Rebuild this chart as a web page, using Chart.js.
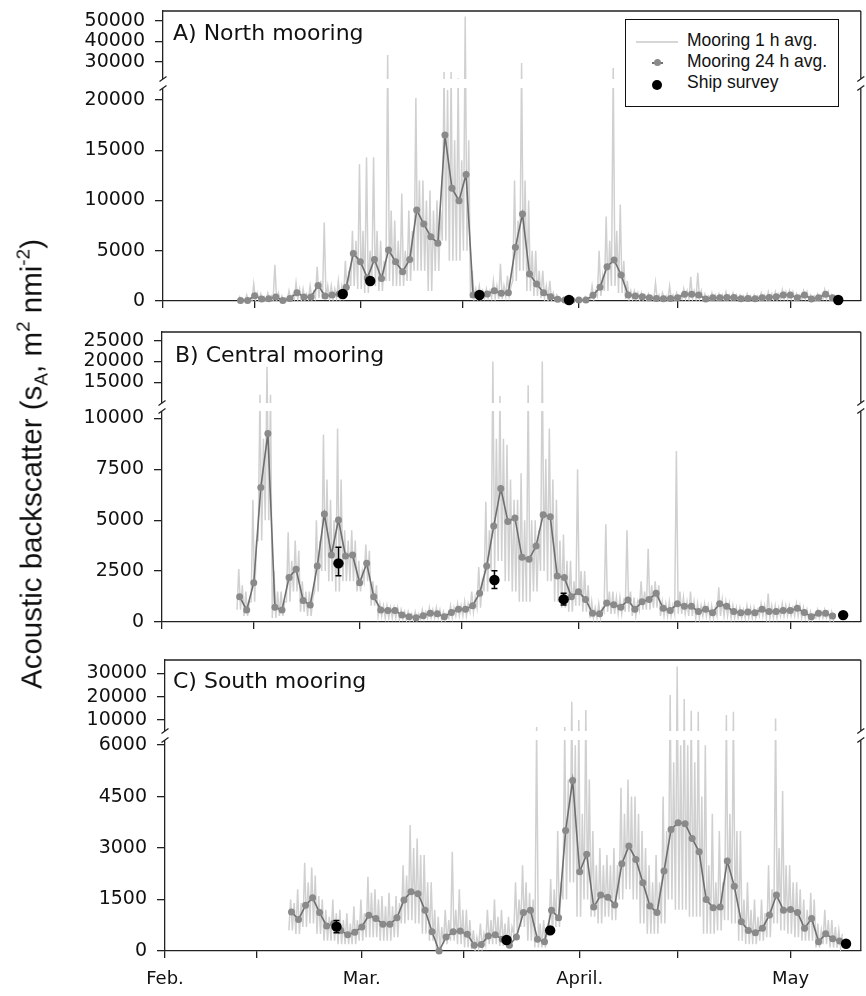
<!DOCTYPE html>
<html>
<head>
<meta charset="utf-8">
<script src="https://cdn.jsdelivr.net/npm/chart.js@4/dist/chart.umd.min.js"></script>
<style>
html,body{margin:0;padding:0;background:#fff;}
#wrap{position:relative;width:866px;height:996px;overflow:hidden;background:#fff;}
canvas{position:absolute;left:0;}
.ptitle{position:absolute;font-family:"DejaVu Sans",sans-serif;font-size:22px;line-height:22px;color:#111;white-space:nowrap;z-index:2;}
#ylab{position:absolute;left:31px;top:464px;transform:translate(-50%,-50%) rotate(-90deg);font-family:"Liberation Sans",Arial,sans-serif;font-size:29.5px;line-height:29px;white-space:nowrap;color:#111;z-index:2;}
#ylab sub,#ylab sup{font-size:19px;line-height:0;position:relative;vertical-align:baseline;}
#ylab sub{top:6px;}
#ylab sup{top:-12px;}
#legend{position:absolute;left:625px;top:19px;width:214px;height:88px;box-sizing:border-box;border:1px solid #111;background:#fff;z-index:3;}
.ltxt{position:absolute;left:61px;font-family:"Liberation Sans",Arial,sans-serif;font-size:17.5px;line-height:17px;color:#111;white-space:nowrap;}
.lline{position:absolute;}
.ldot{position:absolute;border-radius:50%;}
</style>
</head>
<body>
<div id="wrap">
  <canvas id="cA" width="866" height="320" style="top:0px"></canvas>
  <canvas id="cB" width="866" height="320" style="top:320px"></canvas>
  <canvas id="cC" width="866" height="356" style="top:640px"></canvas>
  <div class="ptitle" style="left:173px;top:22px">A) North mooring</div>
  <div class="ptitle" style="left:175px;top:344px">B) Central mooring</div>
  <div class="ptitle" style="left:173px;top:670px">C) South mooring</div>
  <div id="ylab">Acoustic backscatter (s<sub>A</sub>, m<sup>2</sup> nmi<sup>-2</sup>)</div>
  <div id="legend">
    <div class="lline" style="left:10px;top:21px;width:42px;height:2px;background:#d6d6d6"></div>
    <div class="ltxt" style="top:12px">Mooring 1 h avg.</div>
    <div class="lline" style="left:26px;top:42px;width:11px;height:2px;background:#707070"></div>
    <div class="ldot" style="left:28px;top:39px;width:7px;height:7px;background:#8a8a8a"></div>
    <div class="ltxt" style="top:33px">Mooring 24 h avg.</div>
    <div class="ldot" style="left:26px;top:60px;width:10px;height:10px;background:#000"></div>
    <div class="ltxt" style="top:54px">Ship survey</div>
  </div>
</div>
<script>
// ---------- x axis (days since Feb. 1) ----------
const xTickDays = [0, 13, 28, 42.5, 59, 73, 89];
const xTickLabels = ['Feb.', '', 'Mar.', '', 'April.', '', 'May'];

// ---------- Panel A: North mooring ----------
const aTicks = [0, 5000, 10000, 15000, 20000, 30000, 40000, 50000];
const a24Start = 11;
const a24 = [50,50,530,200,230,400,50,260,830,400,
  400,1550,500,600,700,1370,4740,3910,2300,4140,
  2250,5070,3910,2920,4140,9050,7660,6400,5740,16520,
  11210,9980,12600,600,650,700,1030,760,830,5340,
  8660,2690,1690,830,430,170,100,80,100,100,
  560,1360,3420,4080,2590,600,500,430,330,260,
  230,260,330,660,660,600,200,330,330,360,
  360,230,260,230,330,360,430,600,600,330,
  600,200,330,660,330];
// hourly trace, read per day: low, tallest spike, and top of the dense band
const a1hStart = 11;
const a1hLo = [0,0,100,50,50,100,0,50,200,100,
  200,300,200,200,300,500,1500,1200,800,1500,
  1000,2000,1500,1500,2000,3000,3000,1000,3000,6000,
  4000,4000,5000,300,300,300,300,200,500,2000,
  3000,1000,500,300,100,50,0,0,0,0,
  200,500,1000,1500,800,200,200,100,100,100,
  100,100,100,200,200,200,100,100,100,100,
  100,100,100,100,100,100,100,200,200,100,
  200,100,100,200,100];
const a1hHi = [400,600,1700,700,800,3600,500,1000,1800,1200,
  1500,3400,7800,1500,2000,4000,7000,13600,14300,14300,
  6000,33300,8000,10700,9000,20200,12000,11000,10000,25000,
  25000,22000,52000,3000,1500,1200,2000,3700,2500,12000,
  29400,10000,5000,3000,2000,600,300,200,200,400,
  1500,5000,8400,27000,9600,2000,1000,800,700,1800,
  800,1500,800,1200,2400,2800,700,800,700,900,
  800,600,700,600,800,900,900,1100,1000,700,
  1000,600,700,1100,600];
const a1hMid = [200,300,800,400,500,800,300,600,1200,700,
  900,2000,1500,1200,1500,3000,6000,7000,5000,7000,
  4000,9000,6000,5000,7000,12000,10000,9000,9000,21000,
  16000,14000,16000,1200,1000,1000,1500,1500,1500,8000,
  12000,5000,3000,1500,800,300,200,150,150,300,
  1000,2500,6000,7000,4000,1000,800,600,500,600,
  500,600,600,1000,1000,1000,500,600,600,600,
  600,500,500,500,600,700,700,900,900,600,
  900,500,600,900,500];
const aShipDays = [25.5, 29.4, 44.9, 57.6, 95.8];
const aShipVals = [700, 1990, 600, 100, 100];

// ---------- Panel B: Central mooring ----------
const bTicks = [0, 2500, 5000, 7500, 10000, 15000, 20000, 25000];
const b24Start = 11;
const b24 = [1240,590,1930,6610,9260,720,590,2190,2590,1050,
  830,2750,5300,3290,5010,3240,3290,1930,2880,1240,
  590,560,560,340,260,210,310,430,400,260,
  470,620,620,800,1410,2750,4710,6560,4940,5110,
  3180,3080,3730,5270,5170,2260,2190,1240,1490,1110,
  430,400,930,850,720,1080,620,990,1110,1410,
  670,560,900,770,770,510,620,460,900,770,
  510,460,490,460,620,510,510,560,560,670,
  470,260,430,430,290];
const b1hStart = 11;
const b1hLo = [600,300,1000,4000,5000,200,300,1000,1500,500,
  300,1500,2500,2000,1500,2000,2000,1500,2000,800,
  300,200,200,150,100,100,150,200,200,100,
  200,300,300,500,700,1500,2500,3000,2000,1500,
  1000,1000,1500,2500,2000,1000,700,500,800,500,
  200,200,500,400,400,500,300,600,600,700,
  300,300,400,400,300,200,300,200,300,300,
  200,200,200,200,300,200,200,300,300,300,
  200,100,200,200,100];
const b1hHi = [2600,1500,6000,12000,18700,2500,1500,4400,4000,2000,
  1500,5000,9200,6000,9500,4500,4500,3000,3800,2000,
  900,800,700,600,500,500,600,700,700,500,
  800,900,1000,1500,2700,5900,20000,11700,8700,6000,
  7300,14300,5000,20000,9500,6000,4300,3000,7500,2500,
  1000,900,4800,1500,1200,4500,1200,2000,3600,2000,
  1000,1000,8400,1200,1500,900,900,800,1700,1000,
  800,700,800,700,900,1400,800,900,800,900,
  700,500,600,600,500];
const b1hMid = [1800,1000,4000,9000,12000,1500,1000,3000,3500,1500,
  1200,4000,7000,5000,7000,4000,4000,2500,3500,1800,
  800,700,700,500,400,400,500,600,600,400,
  700,800,900,1200,2000,4500,9000,9000,7000,6000,
  5000,5000,4500,8000,7000,4000,3000,2000,2500,1800,
  700,700,1500,1200,1000,1500,1000,1500,1800,1800,
  900,800,1500,1000,1000,800,800,700,1100,900,
  700,600,700,600,800,800,700,800,700,800,
  600,400,500,500,400];
const bShipDays = [25, 47.1, 56.9, 96.5];
const bShipVals = [2880, 2060, 1110, 340];
const bShipErrLo = [2270, 1640, 840, null];
const bShipErrHi = [3670, 2520, 1410, null];

// ---------- Panel C: South mooring ----------
const cTicks = [0, 1500, 3000, 4500, 6000, 10000, 20000, 30000];
const c24Start = 18;
const c24 = [1140,920,1330,1550,1120,730,800,600,470,550,
  700,1040,950,780,780,970,1490,1730,1670,1190,
  560,0,410,560,580,490,170,190,440,470,
  340,170,410,1120,1190,340,270,1190,970,3510,
  4970,2310,2820,1280,1630,1570,1340,2540,3060,2670,
  1990,1310,1120,2330,3540,3740,3710,3280,2890,1500,
  1260,1280,2620,1890,850,600,530,660,1050,1630,
  1190,1210,1120,660,950,270,500,360,290];
const c1hStart = 18;
const c1hLo = [600,500,700,800,500,300,300,200,200,200,
  300,400,400,300,300,400,800,900,800,500,
  300,0,200,300,200,100,50,100,200,200,
  150,100,500,700,300,100,100,500,700,1500,
  2000,1000,1500,1000,800,1000,900,1500,1800,1500,
  800,500,500,800,1500,1200,1200,1000,1000,500,
  500,600,900,800,300,200,200,300,400,800,
  600,500,400,300,300,100,200,100,100];
const c1hHi = [1500,1800,2570,2430,1600,1200,1500,1200,1100,1300,
  1500,2160,1800,1600,1700,1600,2500,3670,3280,2800,
  2000,1000,1200,2890,1800,1200,600,800,1200,1500,
  1200,1000,2000,2500,1700,7000,900,2100,3500,7000,
  17800,10000,14300,3500,3000,2800,3000,4760,5000,4500,
  3500,2500,2800,4500,20700,32900,19000,14000,13500,6000,
  4000,3500,12100,13500,3500,2000,1500,1500,2500,10700,
  4660,2500,2000,1500,1700,800,1200,900,600];
const c1hMid = [1400,1400,2000,2200,1500,1000,1100,900,800,900,
  1100,1700,1500,1300,1300,1400,2200,3000,2800,2000,
  1200,700,900,1200,1200,900,400,500,900,1000,
  800,700,1500,2000,1500,800,600,1800,2000,5000,
  6000,4000,5000,2500,2500,2500,2500,4000,4500,4000,
  3000,2000,2000,3500,5500,6000,6000,5500,4500,2500,
  2000,2000,4000,3500,1500,1200,1000,1100,1800,3000,
  2500,2000,1800,1200,1500,600,900,700,500];
const cShipDays = [24.4, 48.6, 54.8, 96.9];
const cShipVals = [710, 320, 600, 210];
const cShipErrLo = [530, null, null, null];
const cShipErrHi = [890, null, null, null];

// ---------- broken (two-segment) value axis ----------
class BrokenScale extends Chart.LinearScale {
  buildTicks() {
    return this.options.brk.vals.map(v => ({ value: v }));
  }
  getPixelForValue(value) {
    const b = this.options.brk;
    const H = this.bottom - this.top;
    const lowH = b.lowPx, gapH = b.gapPx, upH = H - lowH - gapH;
    if (value <= b.lowMax) return this.bottom - (value / b.lowMax) * lowH;
    if (value < b.highMin) return this.bottom - lowH - (value - b.lowMax) / (b.highMin - b.lowMax) * gapH;
    return this.top + upH - (value - b.highMin) / (b.highMax - b.highMin) * upH;
  }
  getValueForPixel(pixel) {
    const b = this.options.brk;
    const H = this.bottom - this.top;
    const lowH = b.lowPx, gapH = b.gapPx, upH = H - lowH - gapH;
    const fromBottom = this.bottom - pixel;
    if (fromBottom <= lowH) return fromBottom / lowH * b.lowMax;
    if (fromBottom <= lowH + gapH) return b.lowMax;
    return b.highMin + (fromBottom - lowH - gapH) / upH * (b.highMax - b.highMin);
  }
}
BrokenScale.id = 'broken';
BrokenScale.defaults = {};
Chart.register(BrokenScale);

const INK = '#222';

const framePlugin = {
  id: 'brkFrame',
  afterDatasetsDraw(chart, args, opts) {
    const e = opts.err;
    if (!e) return;
    const ctx = chart.ctx, xs = chart.scales.x, ys = chart.scales.y;
    ctx.save();
    ctx.strokeStyle = '#000';
    ctx.lineWidth = 1.5;
    for (let i = 0; i < e.x.length; i++) {
      if (e.lo[i] == null) continue;
      const x = xs.getPixelForValue(e.x[i]);
      const y1 = ys.getPixelForValue(e.lo[i]);
      const y2 = ys.getPixelForValue(e.hi[i]);
      ctx.beginPath();
      ctx.moveTo(x, y1); ctx.lineTo(x, y2);
      ctx.moveTo(x - 3, y1); ctx.lineTo(x + 3, y1);
      ctx.moveTo(x - 3, y2); ctx.lineTo(x + 3, y2);
      ctx.stroke();
    }
    ctx.restore();
  },
  afterDraw(chart) {
    const ctx = chart.ctx;
    const { left, right, top, bottom } = chart.chartArea;
    const b = chart.scales.y.options.brk;
    const gBot = bottom - b.lowPx;
    const gTop = gBot - b.gapPx;
    ctx.save();
    ctx.fillStyle = '#fff';
    ctx.fillRect(left - 2, gTop, right - left + 4, gBot - gTop);
    ctx.strokeStyle = INK;
    ctx.lineWidth = 1.3;
    ctx.beginPath();
    ctx.moveTo(left, top); ctx.lineTo(right, top);
    ctx.moveTo(right, top); ctx.lineTo(right, gTop);
    ctx.moveTo(right, gBot); ctx.lineTo(right, bottom);
    [left, right].forEach(x => {
      [gTop, gBot].forEach(y => {
        ctx.moveTo(x - 3.5, y + 2.5); ctx.lineTo(x + 3.5, y - 2.5);
      });
    });
    ctx.stroke();
    ctx.restore();
  }
};

function daily(start, vals) {
  return vals.map((v, i) => ({ x: start + i, y: v }));
}
function hourly(start, lo, hi, mid) {
  const pts = [];
  for (let i = 0; i < lo.length; i++) {
    const d = start + i;
    pts.push({ x: d - 0.375, y: lo[i] });
    pts.push({ x: d - 0.125, y: hi[i] });
    pts.push({ x: d + 0.125, y: lo[i] });
    pts.push({ x: d + 0.375, y: mid[i] });
  }
  return pts;
}
function ships(days, vals) {
  return days.map((d, i) => ({ x: d, y: vals[i] }));
}

function makeChart(id, p) {
  const tickFont = { family: 'DejaVu Sans', size: 19 };
  const xFont = { family: 'DejaVu Sans', size: 18 };
  return new Chart(document.getElementById(id), {
    type: 'line',
    data: {
      datasets: [
        { label: 'Ship survey', data: p.ship, showLine: false, pointRadius: 5.2,
          pointBackgroundColor: '#000', pointBorderColor: '#000', pointBorderWidth: 0, clip: false },
        { label: 'Mooring 24 h avg.', data: p.d24, borderColor: '#6e6e6e', borderWidth: 1.6,
          pointRadius: 3.5, pointBackgroundColor: '#8a8a8a', pointBorderColor: '#8a8a8a',
          pointBorderWidth: 0, tension: 0, clip: false },
        { label: 'Mooring 1 h avg.', data: p.h1, borderColor: '#d0d0d0', borderWidth: 1.5,
          pointRadius: 0, tension: 0 }
      ]
    },
    options: {
      responsive: false,
      animation: false,
      events: [],
      layout: { padding: { top: p.padTop, right: p.padRight, left: 0, bottom: 0 } },
      plugins: { legend: { display: false }, tooltip: { enabled: false }, brkFrame: { err: p.err } },
      scales: {
        x: {
          type: 'linear', min: 0, max: 99,
          afterBuildTicks: s => { s.ticks = xTickDays.map(v => ({ value: v })); },
          afterFit: s => { s.height = p.xHeight; s.paddingLeft = 0; s.paddingRight = 0; },
          grid: { display: true, drawOnChartArea: false, drawTicks: true, tickLength: 7, color: INK, lineWidth: 1.3 },
          border: { display: true, color: INK, width: 1.3 },
          ticks: { autoSkip: false, maxRotation: 0, minRotation: 0, padding: 11, font: xFont, color: '#111',
            callback: (v, i) => (p.showX ? xTickLabels[i] : '') }
        },
        y: {
          type: 'broken', min: 0, max: p.brk.highMax, brk: p.brk,
          afterFit: s => { s.width = p.yWidth; s.paddingTop = 0; s.paddingBottom = 0; },
          grid: { display: true, drawOnChartArea: false, drawTicks: true, tickLength: 8, color: INK, lineWidth: 1.3 },
          border: { display: true, color: INK, width: 1.3 },
          ticks: { autoSkip: false, padding: 10, font: tickFont, color: '#111', callback: v => String(v) }
        }
      }
    },
    plugins: [framePlugin]
  });
}

makeChart('cA', {
  padTop: 11, padRight: 3, yWidth: 163, xHeight: 19, showX: false,
  brk: { vals: aTicks, lowMax: 21200, highMin: 21600, highMax: 54700, lowPx: 213, gapPx: 9 },
  ship: ships(aShipDays, aShipVals),
  d24: daily(a24Start, a24),
  h1: hourly(a1hStart, a1hLo, a1hHi, a1hMid),
  err: null
});
makeChart('cB', {
  padTop: 12, padRight: 4, yWidth: 162, xHeight: 18, showX: false,
  brk: { vals: bTicks, lowMax: 10360, highMin: 10000, highMax: 27100, lowPx: 211, gapPx: 8 },
  ship: ships(bShipDays, bShipVals),
  d24: daily(b24Start, b24),
  h1: hourly(b1hStart, b1hLo, b1hHi, b1hMid),
  err: { x: bShipDays, lo: bShipErrLo, hi: bShipErrHi }
});
makeChart('cC', {
  padTop: 20, padRight: 1, yWidth: 165, xHeight: 45, showX: true,
  brk: { vals: cTicks, lowMax: 6150, highMin: 5300, highMax: 35700, lowPx: 211, gapPx: 9 },
  ship: ships(cShipDays, cShipVals),
  d24: daily(c24Start, c24),
  h1: hourly(c1hStart, c1hLo, c1hHi, c1hMid),
  err: { x: cShipDays, lo: cShipErrLo, hi: cShipErrHi }
});
</script>
</body>
</html>
